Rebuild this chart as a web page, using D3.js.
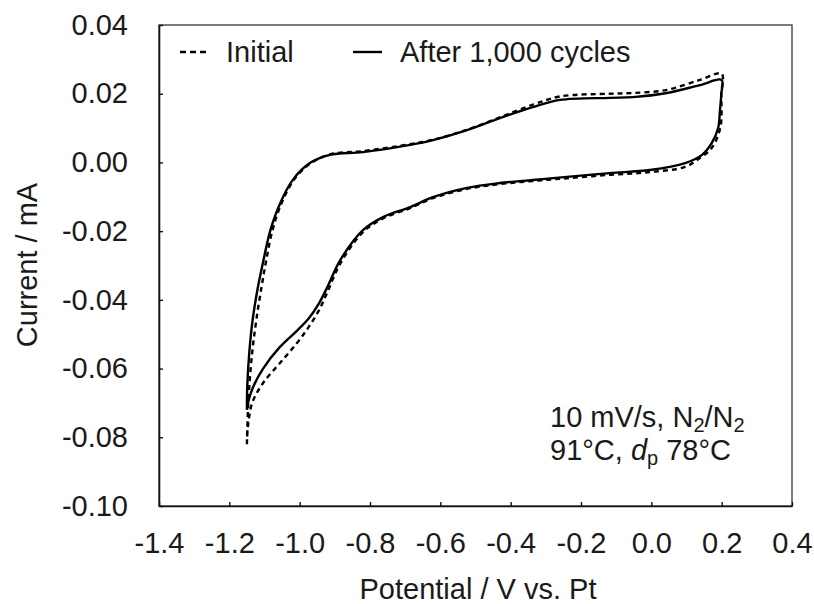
<!DOCTYPE html>
<html>
<head>
<meta charset="utf-8">
<script src="https://cdn.jsdelivr.net/npm/d3@7"></script>
<style>
  body { margin: 0; background: #fff; }
  svg text { font-family: "Liberation Sans", Arial, sans-serif; fill: #1a1a1a; }
</style>
</head>
<body>
<svg width="814" height="604"></svg>
<script>
// initial CV (dashed)
const initV = [-1.150, -1.147, -1.141, -1.133, -1.122, -1.108, -1.096, -1.078, -1.052, -1.016, -0.968, -0.912, -0.820, -0.686, -0.621, -0.524, -0.431, -0.337, -0.260, -0.118, -0.052, 0.044, 0.138, 0.200,
  0.199, 0.196, 0.170, 0.138, 0.096, -0.004, -0.118, -0.240, -0.337, -0.431, -0.524, -0.621, -0.686, -0.763, -0.820, -0.885, -0.920, -0.945, -0.975, -1.008, -1.056, -1.104, -1.135, -1.146, -1.150];
const initI = [-0.0820, -0.0720, -0.0620, -0.0535, -0.0450, -0.0360, -0.0290, -0.0200, -0.0120, -0.0050, -0.0002, 0.0024, 0.0033, 0.0053, 0.0066, 0.0095, 0.0131, 0.0168, 0.0192, 0.0200, 0.0202, 0.0211, 0.0240, 0.0258,
  0.0200, 0.0100, 0.0040, 0.0013, -0.0013, -0.0028, -0.0036, -0.0046, -0.0054, -0.0063, -0.0077, -0.0104, -0.0133, -0.0163, -0.0203, -0.0295, -0.0375, -0.0430, -0.0480, -0.0526, -0.0584, -0.0642, -0.0700, -0.0760, -0.0808];

// after 1,000 cycles (solid)
const afterV = [-1.150, -1.149, -1.143, -1.134, -1.120, -1.104, -1.084, -1.056, -1.019, -0.971, -0.914, -0.820, -0.686, -0.621, -0.524, -0.431, -0.337, -0.260, -0.118, -0.052, 0.044, 0.138, 0.200,
  0.199, 0.195, 0.190, 0.172, 0.144, 0.096, -0.004, -0.118, -0.240, -0.337, -0.431, -0.524, -0.621, -0.686, -0.763, -0.820, -0.885, -0.920, -0.945, -0.975, -1.008, -1.056, -1.104, -1.133, -1.147, -1.150];
const afterI = [-0.0720, -0.0650, -0.0550, -0.0460, -0.0370, -0.0290, -0.0200, -0.0120, -0.0050, -0.0002, 0.0022, 0.0030, 0.0051, 0.0065, 0.0094, 0.0129, 0.0161, 0.0182, 0.0188, 0.0190, 0.0202, 0.0225, 0.0240,
  0.0200, 0.0150, 0.0100, 0.0057, 0.0022, -0.0002, -0.0022, -0.0031, -0.0042, -0.0051, -0.0060, -0.0074, -0.0101, -0.0130, -0.0159, -0.0197, -0.0285, -0.0360, -0.0410, -0.0455, -0.0490, -0.0537, -0.0600, -0.0655, -0.0700, -0.0720];

const xTicks = [-1.4, -1.2, -1.0, -0.8, -0.6, -0.4, -0.2, 0.0, 0.2, 0.4];
const yTicks = [0.04, 0.02, 0.00, -0.02, -0.04, -0.06, -0.08, -0.10];

const svg = d3.select("svg");
const L = 159, R = 792, T = 25, B = 506;

const x = d3.scaleLinear().domain([-1.4, 0.4]).range([L, R]);
const y = d3.scaleLinear().domain([-0.10, 0.04]).range([B, T]);

// frame
svg.append("rect")
  .attr("x", L).attr("y", T).attr("width", R - L).attr("height", B - T)
  .attr("fill", "none").attr("stroke", "#444").attr("stroke-width", 1.4);

const xAxis = svg.append("g")
  .attr("transform", `translate(0,${B})`)
  .call(d3.axisBottom(x).tickValues(xTicks).tickSizeInner(-4).tickSizeOuter(0).tickPadding(26)
    .tickFormat(d3.format(".1f")));
const yAxis = svg.append("g")
  .attr("transform", `translate(${L},0)`)
  .call(d3.axisLeft(y).tickValues(yTicks).tickSizeInner(-4).tickSizeOuter(0).tickPadding(31)
    .tickFormat(d3.format(".2f")));

[xAxis, yAxis].forEach(function (g) {
  g.select(".domain").attr("stroke", "#111").attr("stroke-width", 1.6);
  g.selectAll(".tick line").attr("stroke", "#111").attr("stroke-width", 1.4);
  g.selectAll(".tick text").attr("font-size", 29).attr("fill", "#1a1a1a")
    .text(function () { return this.textContent.replace("−", "-"); });
});
xAxis.selectAll(".tick text").attr("dy", "0.71em");

// axis titles
svg.append("text")
  .attr("x", 478).attr("y", 599)
  .attr("text-anchor", "middle").attr("font-size", 29)
  .text("Potential / V vs. Pt");
svg.append("text")
  .attr("transform", "translate(37,265) rotate(-90)")
  .attr("text-anchor", "middle").attr("font-size", 29)
  .text("Current / mA");

// curves
const line = d3.line()
  .x(function (d) { return x(d[0]); })
  .y(function (d) { return y(d[1]); })
  .curve(d3.curveCatmullRom.alpha(0.5));

svg.append("path")
  .datum(d3.zip(initV, initI))
  .attr("d", line)
  .attr("fill", "none").attr("stroke", "#000").attr("stroke-width", 2.4)
  .attr("stroke-dasharray", "5,4");

svg.append("path")
  .datum(d3.zip(afterV, afterI))
  .attr("d", line)
  .attr("fill", "none").attr("stroke", "#000").attr("stroke-width", 2.4)
  .attr("stroke-linejoin", "round");

// legend
const lg = svg.append("g");
lg.append("line").attr("x1", 180).attr("x2", 208).attr("y1", 52).attr("y2", 52)
  .attr("stroke", "#000").attr("stroke-width", 2.4).attr("stroke-dasharray", "6,4");
lg.append("text").attr("x", 226).attr("y", 62).attr("font-size", 29).text("Initial");
lg.append("line").attr("x1", 353).attr("x2", 382).attr("y1", 52).attr("y2", 52)
  .attr("stroke", "#000").attr("stroke-width", 2.4);
lg.append("text").attr("x", 400).attr("y", 62).attr("font-size", 29).text("After 1,000 cycles");

// condition note
const t1 = svg.append("text").attr("x", 550).attr("y", 427).attr("font-size", 29);
t1.append("tspan").text("10 mV/s, N");
t1.append("tspan").attr("font-size", 20).attr("dy", 5).text("2");
t1.append("tspan").attr("dy", -5).text("/N");
t1.append("tspan").attr("font-size", 20).attr("dy", 5).text("2");

const t2 = svg.append("text").attr("x", 550).attr("y", 460).attr("font-size", 29);
t2.append("tspan").text("91°C, ");
t2.append("tspan").attr("font-style", "italic").text("d");
t2.append("tspan").attr("font-size", 20).attr("dy", 5).text("p");
t2.append("tspan").attr("dy", -5).text(" 78°C");
</script>
</body>
</html>
